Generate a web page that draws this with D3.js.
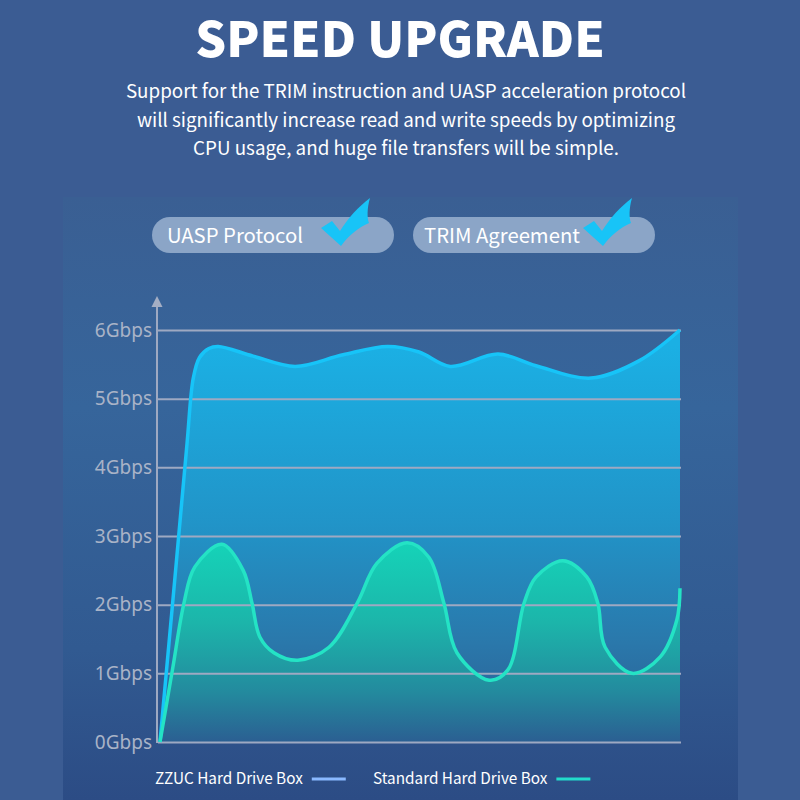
<!DOCTYPE html>
<html>
<head>
<meta charset="utf-8">
<script src="https://cdn.jsdelivr.net/npm/d3@7"></script>
<style>
  body { margin: 0; background: #3b5c93; }
  #chart { width: 800px; height: 800px; }
  text { font-family: "Noto Sans CJK SC", "Noto Sans", sans-serif; }
</style>
</head>
<body>
<div id="chart"></div>
<script>
// data (x = time steps 0..100, y = Gbps)
const yTicks = [0, 1, 2, 3, 4, 5, 6];
const zzucX = [0, 3, 5.2, 6.4, 7.6, 9.4, 11.2, 17.9, 26, 35.2, 43.8, 49.8, 55.8, 65, 72.3, 82.9, 92.1, 100];
const zzucY = [0, 2.5, 4.35, 5.3, 5.6, 5.73, 5.76, 5.62, 5.47, 5.64, 5.76, 5.68, 5.47, 5.65, 5.48, 5.3, 5.55, 6.0];
const stdX = [0, 2.5, 4.6, 6.7, 11.9, 16, 17.7, 19.2, 21.9, 26.5, 32.5, 37.9, 41.7, 47.5, 51.7, 54.6, 57.1, 63.3, 66.9, 70, 72.3, 77.5, 82.1, 84.2, 85.6, 90.8, 96.2, 99.4, 100];
const stdY = [0, 1.1, 2.02, 2.55, 2.88, 2.5, 2.02, 1.53, 1.3, 1.19, 1.38, 2.02, 2.6, 2.9, 2.69, 2.02, 1.3, 0.9, 1.05, 2.02, 2.4, 2.64, 2.4, 2.02, 1.38, 1.0, 1.24, 1.78, 2.24];
const seriesNames = ["ZZUC Hard Drive Box", "Standard Hard Drive Box"];
const badges = ["UASP Protocol", "TRIM Agreement"];

const width = 800, height = 800;
const svg = d3.select("#chart").append("svg")
    .attr("width", width)
    .attr("height", height);

const defs = svg.append("defs");

function vGrad(id, y1, y2, stops) {
    const g = defs.append("linearGradient")
        .attr("id", id)
        .attr("gradientUnits", "userSpaceOnUse")
        .attr("x1", 0).attr("x2", 0)
        .attr("y1", y1).attr("y2", y2);
    stops.forEach(s => g.append("stop").attr("offset", s[0]).attr("stop-color", s[1]));
}
vGrad("panelGrad", 197, 800, [[0, "#3a5f93"], [0.35, "#36659b"], [0.75, "#315a91"], [1, "#2c4c85"]]);
vGrad("blueGrad", 345, 742, [[0, "#1bb0e4"], [0.45, "#2194c8"], [0.75, "#2a78ab"], [1, "#2b5a90"]]);
vGrad("greenGrad", 543, 742, [[0, "#15d3b8"], [0.4, "#1cb5aa"], [0.75, "#238a9e"], [1, "#2b5f92"]]);

// background panel behind the chart
svg.append("rect")
    .attr("x", 63).attr("y", 197)
    .attr("width", 675).attr("height", 603)
    .attr("fill", "url(#panelGrad)");

// title + subtitle
svg.append("text")
    .attr("x", 400).attr("y", 57)
    .attr("text-anchor", "middle")
    .attr("fill", "#fff")
    .style("font-size", "48.5px")
    .style("font-weight", 900)
    .text("SPEED UPGRADE");

const sub = [
    "Support for the TRIM instruction and UASP acceleration protocol",
    "will significantly increase read and write speeds by optimizing",
    "CPU usage, and huge file transfers will be simple."
];
svg.append("g").selectAll("text")
    .data(sub)
    .join("text")
    .attr("x", 406)
    .attr("y", (d, i) => 98 + i * 28.5)
    .attr("text-anchor", "middle")
    .attr("fill", "#fff")
    .style("font-size", "18.8px")
    .text(d => d);

// badges
const badgeX = [152, 413];
const badge = svg.append("g").selectAll("g")
    .data(badges)
    .join("g")
    .attr("transform", (d, i) => "translate(" + badgeX[i] + ",217)");
badge.append("rect")
    .attr("width", 242).attr("height", 36).attr("rx", 18)
    .attr("fill", "#8fa9c9").attr("fill-opacity", 0.95);
badge.append("text")
    .attr("x", d => d === badges[0] ? 15 : 11)
    .attr("y", 26)
    .attr("fill", "#fff")
    .style("font-size", "20.3px")
    .text(d => d);
const checkX = [169, 170];
badge.append("path")
    .attr("transform", (d, i) => "translate(" + checkX[i] + ",-19)")
    .attr("d", "M0,30 L11,23 L19,33 C27,20 37,9 49,0 C46,10 46,20 48,25 C38,29 28,37 20,48 Z")
    .attr("fill", "#18c4f7");

// scales
const x = d3.scaleLinear().domain([0, 100]).range([160, 680]);
const y = d3.scaleLinear().domain([0, 6]).range([742, 330]);

const zzuc = zzucX.map((v, i) => [v, zzucY[i]]);
const std = stdX.map((v, i) => [v, stdY[i]]);

const curve = d3.curveCatmullRom.alpha(0.5);
const area = d3.area()
    .x(d => x(d[0]))
    .y0(y(0))
    .y1(d => y(d[1]))
    .curve(curve);
const line = d3.line()
    .x(d => x(d[0]))
    .y(d => y(d[1]))
    .curve(curve);

svg.append("path").datum(zzuc).attr("d", area).attr("fill", "url(#blueGrad)");
svg.append("path").datum(std).attr("d", area).attr("fill", "url(#greenGrad)");

// y axis with gridlines
const yAxis = d3.axisLeft(y)
    .tickValues(yTicks)
    .tickFormat(d => d + "Gbps")
    .tickSizeInner(-523)
    .tickSizeOuter(0)
    .tickPadding(6);

svg.append("g")
    .attr("transform", "translate(158,0)")
    .call(yAxis)
    .call(g => g.select(".domain").remove())
    .call(g => g.selectAll(".tick line")
        .attr("stroke", "#9ea9c2").attr("stroke-width", 2))
    .call(g => g.selectAll(".tick text")
        .attr("x", -6)
        .attr("fill", "#a9b3c7")
        .style("font-size", "19px")
        .style("font-family", "'Noto Sans', sans-serif"));

// vertical axis line + arrow
svg.append("line")
    .attr("x1", 157).attr("x2", 157)
    .attr("y1", y(0) + 1).attr("y2", 305)
    .attr("stroke", "#9ea9c2").attr("stroke-width", 2);
svg.append("path")
    .attr("d", "M157,296 L151.5,307 L162.5,307 Z")
    .attr("fill", "#a4aec4");

svg.append("path").datum(zzuc).attr("d", line)
    .attr("fill", "none").attr("stroke", "#17c4f8").attr("stroke-width", 3.5);
svg.append("path").datum(std).attr("d", line)
    .attr("fill", "none").attr("stroke", "#24e3c5").attr("stroke-width", 3.5);

// legend
const legX = [155, 373];
const legColor = ["#8ab9ff", "#22dccb"];
const leg = svg.append("g").selectAll("g")
    .data(seriesNames)
    .join("g")
    .attr("transform", (d, i) => "translate(" + legX[i] + ",784)");
leg.append("text")
    .attr("fill", "#fff")
    .style("font-size", "15.3px")
    .text(d => d);
leg.each(function (d, i) {
    const w = d3.select(this).select("text").node().getComputedTextLength();
    d3.select(this).append("line")
        .attr("x1", w + 9).attr("x2", w + 43)
        .attr("y1", -5).attr("y2", -5)
        .attr("stroke", legColor[i]).attr("stroke-width", 3);
});
</script>
</body>
</html>
